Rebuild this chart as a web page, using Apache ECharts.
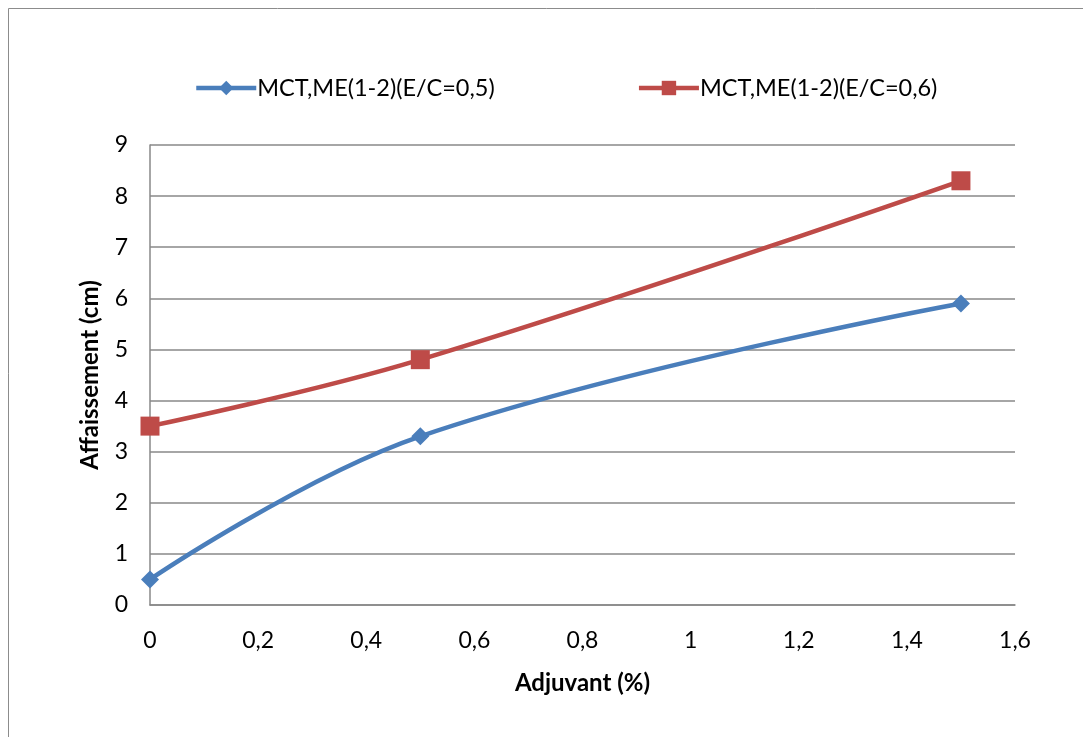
<!DOCTYPE html>
<html><head><meta charset="utf-8">
<script src="https://cdn.jsdelivr.net/npm/echarts@6/dist/echarts.min.js"></script>
<style>html,body{margin:0;padding:0;background:#fff}#c{width:1083px;height:737px}</style>
</head><body><div id="c"></div>
<script>
const seriesNames = ['MCT,ME(1-2)(E/C=0,5)', 'MCT,ME(1-2)(E/C=0,6)'];
const xValues = [0, 0.5, 1.5];
const blueValues = [0.5, 3.3, 5.9];
const redValues = [3.5, 4.8, 8.3];
const xTitle = 'Adjuvant (%)';
const yTitle = 'Affaissement (cm)';

const font = 'Lato, Open Sans, sans-serif';
const fs = 23;
const chart = echarts.init(document.getElementById('c'));
const pair = (xs, ys) => xs.map((x, i) => [x, ys[i]]);
chart.setOption({
  animation: false,
  textStyle: { fontFamily: font },
  graphic: [{ type: 'rect', shape: { x: 8.5, y: 8.5, width: 1200, height: 900 }, style: { fill: 'none', stroke: '#8c8c8c', lineWidth: 1 } }],
  legend: {
    left: 189, top: 71, itemWidth: 60, itemHeight: 18, itemGap: 142,
    lineStyle: { width: 4.5 },
    textStyle: { fontSize: 23.5, color: '#000', fontFamily: font, padding: [0, 0, 0, -4] },
    data: seriesNames
  },
  grid: { left: 150, right: 68, top: 145, bottom: 132 },
  xAxis: {
    type: 'value', min: 0, max: 1.6, interval: 0.2,
    name: xTitle, nameLocation: 'middle', nameGap: 66,
    nameTextStyle: { fontSize: 24, fontWeight: 'bold', color: '#000', fontFamily: font },
    axisLine: { show: true, lineStyle: { color: '#888', width: 1.5 } },
    axisTick: { show: false },
    splitLine: { show: false },
    axisLabel: { fontSize: fs, color: '#000', margin: 24, fontFamily: font, formatter: v => String(+v.toFixed(1)).replace('.', ',') }
  },
  yAxis: {
    type: 'value', min: 0, max: 9, interval: 1,
    name: yTitle, nameLocation: 'middle', nameGap: 48,
    nameTextStyle: { fontSize: 24, fontWeight: 'bold', color: '#000', fontFamily: font },
    axisLine: { show: true, lineStyle: { color: '#888', width: 1.5 } },
    axisTick: { show: false },
    splitLine: { show: true, lineStyle: { color: '#888', width: 1.5 } },
    axisLabel: { fontSize: fs, color: '#000', margin: 22, fontFamily: font }
  },
  series: [
    { name: seriesNames[0], type: 'line', smooth: 0.4, data: pair(xValues, blueValues),
      symbol: 'diamond', symbolSize: 18, lineStyle: { color: '#4a7ebb', width: 4.5 }, itemStyle: { color: '#4a7ebb' } },
    { name: seriesNames[1], type: 'line', smooth: 0.4, data: pair(xValues, redValues),
      symbol: 'rect', symbolSize: 19, lineStyle: { color: '#be4b48', width: 4.5 }, itemStyle: { color: '#be4b48' } }
  ]
});
</script></body></html>
